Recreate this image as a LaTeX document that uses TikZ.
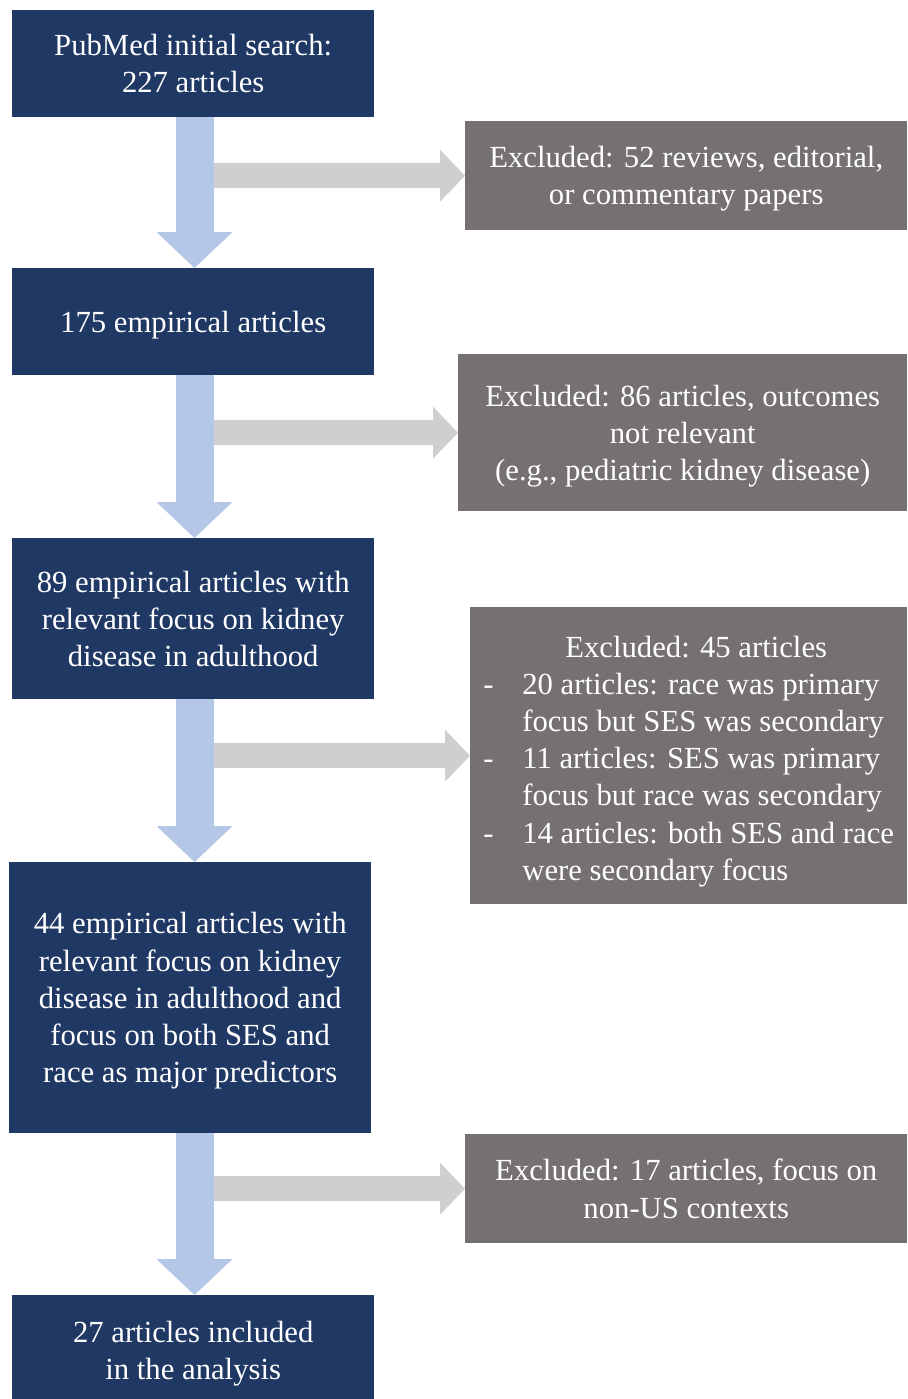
\documentclass[tikz,border=0pt]{standalone}
\usepackage{fontspec}
\setmainfont{Liberation Serif}
\usepackage{tikz}
\usetikzlibrary{arrows.meta}
\definecolor{navybox}{HTML}{203864}
\definecolor{greybox}{HTML}{767171}
\definecolor{blueflow}{HTML}{B4C7E7}
\definecolor{greyflow}{HTML}{D0CECE}
\newcommand\boxfont{\fontsize{30.7}{37.2}\selectfont}
\tikzset{
	navy/.style={fill=navybox,text=white,anchor=north west,align=center,font=\boxfont,inner sep=0pt,text depth=0pt},
	greyish/.style={fill=greybox,text=white,anchor=north west,align=center,font=\boxfont,inner sep=0pt,text depth=0pt},
	bluearr/.style={draw=blueflow,line width=38pt,-{Triangle[length=36pt,width=76pt,line width=0pt]}},
	greyarr/.style={draw=greyflow,line width=25pt,-{Triangle[length=25pt,width=52pt,line width=0pt]}}
}

\begin{document}
\begin{tikzpicture}[x=1pt,y=-1pt]
						\useasboundingbox (0,0) rectangle (907,1399);
						\coordinate (axis) at (194.5,0);
						\coordinate (shaft) at (213,0);

						% main column
						\node[navy,minimum width=362pt,minimum height=107pt] (pub) at (12,10) {PubMed initial search:\\227 articles};
						\node[navy,minimum width=362pt,minimum height=107pt] (emp) at (12,268) {175 empirical articles};
						\node[navy,minimum width=362pt,minimum height=161pt] (adult) at (12,538) {89 empirical articles with\\relevant focus on kidney\\disease in adulthood};
						\node[navy,minimum width=362pt,minimum height=271pt] (both) at (9,862) {44 empirical articles with\\relevant focus on kidney\\disease in adulthood and\\focus on both SES and\\race as major predictors};
						\node[navy,minimum width=362pt,minimum height=111pt] (incl) at (12,1295) {27 articles included\\in the analysis};

						% exclusions
						\node[greyish,minimum width=442pt,minimum height=109pt] (exA) at (465,121) {Excluded: 52 reviews, editorial,\\or commentary papers};
						\node[greyish,minimum width=449pt,minimum height=157pt] (exB) at (458,354) {Excluded: 86 articles, outcomes\\not relevant\\(e.g., pediatric kidney disease)};
						\node[greyish,minimum width=437pt,minimum height=297pt] (exC) at (470,607) {\begin{tabular}[b]{@{}p{39pt}@{}l@{}}
							\multicolumn{2}{c}{\hspace*{15pt}Excluded: 45 articles}\\
							- & 20 articles: race was primary\\
							  & focus but SES was secondary\\
							- & 11 articles: SES was primary\\
							  & focus but race was secondary\\
							- & 14 articles: both SES and race\\
							  & were secondary focus
						\end{tabular}};
						\node[greyish,minimum width=442pt,minimum height=109pt] (exD) at (465,1134) {Excluded: 17 articles, focus on\\non-US contexts};

						\foreach \e in {exA,exB,exC,exD}
						{
							\draw[greyarr] (\e.west -| shaft) -- (\e.west);
						}
						\foreach \a/\b in {pub/emp,emp/adult,adult/both,both/incl}
						{
							\draw[bluearr] (\a.south -| axis) -- (\b.north -| axis);
						}
					\end{tikzpicture}
\end{document}
